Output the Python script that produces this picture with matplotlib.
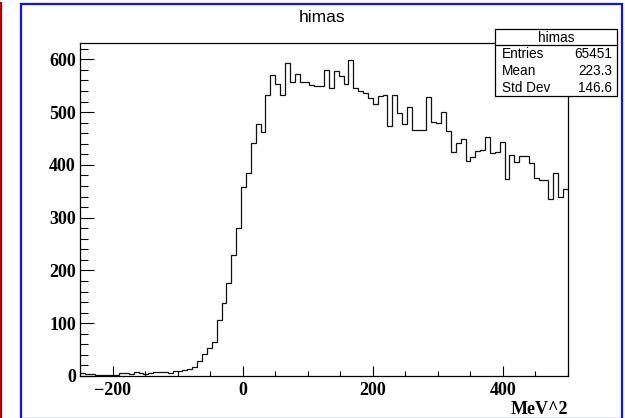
import numpy as np
import matplotlib.pyplot as plt
from matplotlib.patches import Rectangle
from matplotlib.lines import Line2D
from matplotlib.ticker import MultipleLocator

# =========================
# DATA: himas histogram (100 bins, -250 .. 500)
# =========================

X_MIN = -250
X_MAX = 500
N_BINS = 100

contenidos = [
    5, 4, 3, 2, 1, 1, 1, 1, 6, 5,
    3, 7, 6, 4, 6, 7, 7, 7, 5, 9,
    10, 12, 14, 18, 29, 42, 53, 64, 107, 138,
    177, 230, 281, 358, 384, 441, 477, 463, 532, 571,
    554, 532, 593, 557, 573, 557, 557, 551, 549, 549,
    580, 545, 578, 568, 553, 598, 545, 540, 537, 526,
    516, 530, 532, 473, 532, 499, 477, 509, 466, 466,
    466, 529, 482, 479, 500, 465, 425, 442, 449, 408,
    415, 426, 429, 453, 423, 424, 444, 373, 419, 405,
    417, 417, 403, 376, 371, 371, 335, 384, 339, 354,
]

titulo = "himas"
eixo_x = "MeV^2"
estat_nomes = ["Entries", "Mean", "Std Dev"]
estat_valores = ["65451", "223.3", "146.6"]

# =========================
# FIGURE
# =========================

W, H = 625, 418
fig = plt.figure(figsize=(W / 100, H / 100), dpi=100)


def fx(px):
    return px / W


def fy(py):
    return 1 - py / H


# pad border and the red marker on the left edge
fig.add_artist(Line2D([fx(1), fx(1)], [fy(3), fy(418)], color="#b80000", lw=1.6))
fig.add_artist(Rectangle((fx(21), fy(418.5)), fx(622) - fx(21), fy(4) - fy(418.5),
                         fill=False, edgecolor="#1010ff", lw=1.6))

ax = fig.add_axes([fx(80), fy(376), fx(568) - fx(80), fy(43) - fy(376)])

bordes = np.linspace(X_MIN, X_MAX, N_BINS + 1)
ax.stairs(contenidos, bordes, baseline=None, color="#111111", lw=0.9)

ax.set_xlim(X_MIN, X_MAX)
ax.set_ylim(0, 631)

ax.xaxis.set_major_locator(MultipleLocator(200))
ax.xaxis.set_minor_locator(MultipleLocator(50))
ax.yaxis.set_major_locator(MultipleLocator(100))
ax.yaxis.set_minor_locator(MultipleLocator(20))

ax.tick_params(axis="both", which="both", direction="in", top=False, right=False,
               width=0.8, color="black")
ax.tick_params(axis="y", which="major", length=10, pad=3)
ax.tick_params(axis="y", which="minor", length=5.5)
ax.tick_params(axis="x", which="major", length=7, pad=4)
ax.tick_params(axis="x", which="minor", length=3.6)

for lab in ax.get_xticklabels() + ax.get_yticklabels():
    lab.set_fontfamily("Liberation Serif")
    lab.set_fontweight("bold")
    lab.set_fontsize(13)

for sp in ax.spines.values():
    sp.set_linewidth(0.9)
    sp.set_color("black")

# title and axis label
fig.text(fx(322), fy(22), titulo, ha="center", va="baseline",
         fontfamily="Liberation Sans", fontsize=12.5)
fig.text(fx(568), fy(414), eixo_x, ha="right", va="baseline",
         fontfamily="Liberation Serif", fontweight="bold", fontsize=13)

# =========================
# STATS BOX
# =========================

fig.add_artist(Rectangle((fx(495), fy(96)), fx(617) - fx(495), fy(29) - fy(96),
                         facecolor="white", edgecolor="black", lw=0.9, zorder=5))
fig.add_artist(Line2D([fx(495), fx(617)], [fy(45), fy(45)], color="black", lw=0.9, zorder=6))

fig.text(fx(556), fy(38), titulo, ha="center", va="center",
         fontfamily="Liberation Sans", fontsize=9.8, zorder=7)

linhas_y = [54, 71, 88]
for nome, valor, yy in zip(estat_nomes, estat_valores, linhas_y):
    fig.text(fx(502), fy(yy), nome, ha="left", va="center",
             fontfamily="Liberation Sans", fontsize=9.8, zorder=7)
    fig.text(fx(612), fy(yy), valor, ha="right", va="center",
             fontfamily="Liberation Sans", fontsize=9.8, zorder=7)

fig.savefig("out.png", dpi=100)
